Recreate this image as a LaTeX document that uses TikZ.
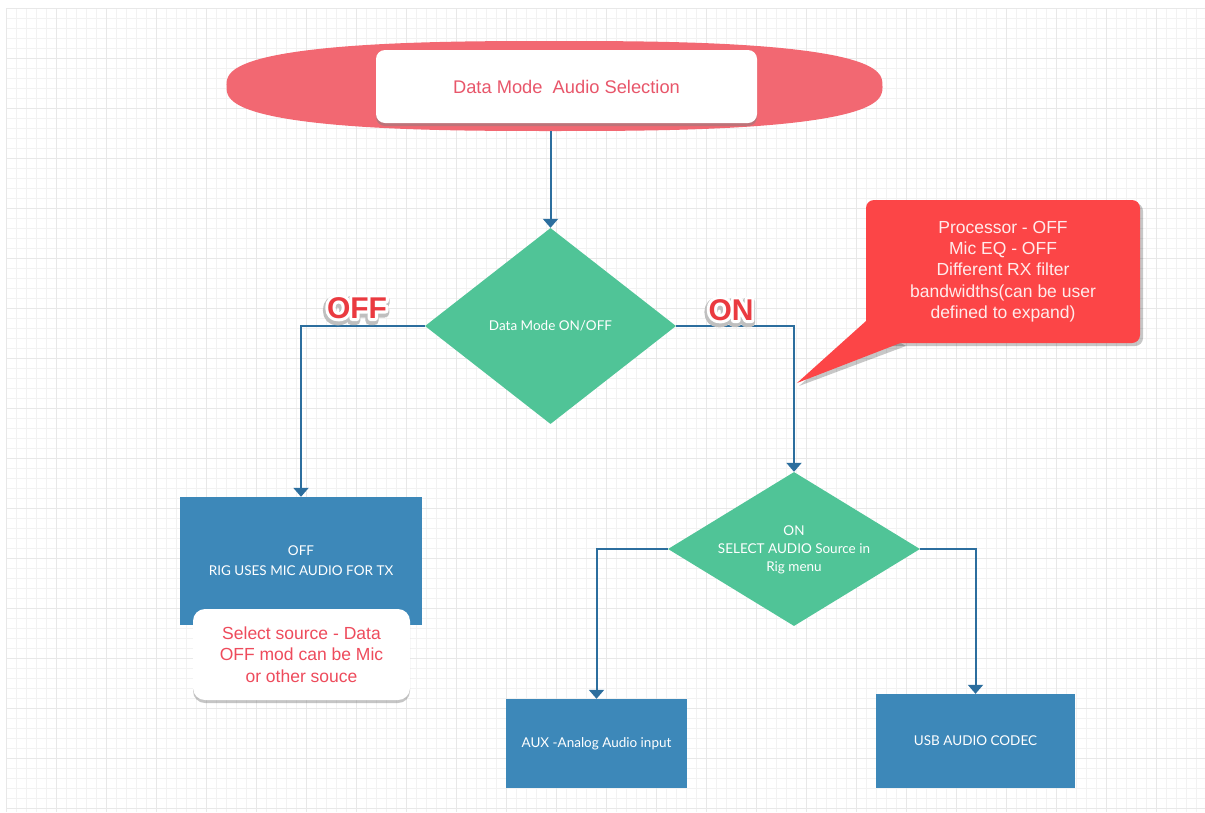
\documentclass[tikz,border=0pt]{standalone}
\usepackage{fontspec}
\setmainfont{Liberation Sans}
\newfontfamily\lato{Lato}
\usetikzlibrary{shapes.geometric,arrows.meta,shadows,calc}
\definecolor{ellred}{HTML}{F26872}
\definecolor{calred}{HTML}{FC4547}
\definecolor{dgreen}{HTML}{50C497}
\definecolor{bbox}{HTML}{3D88B9}
\definecolor{lnblue}{HTML}{2C6E9E}
\definecolor{pinktxt}{HTML}{E8566A}
\definecolor{notetxt}{HTML}{EE4B5C}
\definecolor{lblred}{HTML}{EA3A40}
\newcommand\strk[3]{{\color{#1}\special{pdf:literal direct 1 Tr #2 w 1 j 1 J}#3\special{pdf:literal direct 0 Tr 0.4 w 0 j 0 J}}}
\newcommand\outlined[1]{\rlap{\raisebox{-2.5pt}{\hspace*{-0.8pt}\strk{black!25}{9}{#1}}}\rlap{\strk{white}{6}{#1}}{\color{lblred}#1}}
\begin{document}
\begin{tikzpicture}[x=1pt,y=-1pt,
  conn/.style={draw=lnblue,line width=2pt,-{Triangle[width=15pt,length=9pt]}},
  bluebox/.style={rectangle,fill=bbox,inner sep=0pt,text=white,align=center,font=\lato\fontsize{13.5}{19}\selectfont},
  dia/.style={diamond,fill=dgreen,inner sep=0pt,text=white,align=center,font=\lato\fontsize{13.5}{18}\selectfont},
  whitebox/.style={rectangle,rounded corners=12pt,fill=white,inner sep=0pt,align=center,
    drop shadow={opacity=0.45,shadow xshift=0pt,shadow yshift=-3pt}},
  lbl/.style={inner sep=0pt,font=\bfseries\fontsize{30}{30}\selectfont}]
\useasboundingbox (0,0) rectangle (1205,812);
\fill[white] (0,0) rectangle (1205,812);
% grid
\foreach \i in {0,...,120}{\draw[black!5,line width=0.6pt] (6+\i*10,8) -- (6+\i*10,812);}
\foreach \j in {0,...,80}{\draw[black!5,line width=0.6pt] (6,8+\j*10) -- (1205,8+\j*10);}
\foreach \i in {0,...,24}{\draw[black!9,line width=0.8pt] (6+\i*50,8) -- (6+\i*50,812);}
\foreach \j in {0,...,16}{\draw[black!9,line width=0.8pt] (6,8+\j*50) -- (1205,8+\j*50);}

% title (rounded ellipse)
\fill[ellred] plot[domain=0.5:360.5,samples=181]
  ({554.5+328*sign(cos(\x))*pow(abs(cos(\x)),0.74)},{86+45*sign(sin(\x))*pow(abs(sin(\x)),0.74)}) -- cycle;
\coordinate (ellb) at (554.5,131);
\node[whitebox,rounded corners=9pt,minimum width=381pt,minimum height=73pt,text=pinktxt,font=\fontsize{18.3}{20}\selectfont] (title) at (566.5,86.5) {Data Mode\ \ Audio Selection};

% decisions
\node[dia,minimum width=251pt,minimum height=196pt,aspect=1.28] (d1) at (550.5,326) {Data Mode ON/OFF};
\node[dia,minimum width=252pt,minimum height=154pt,aspect=1.64,text depth=-4pt] (d2) at (794,549) {ON\\SELECT AUDIO Source in\\Rig menu};

% boxes
\node[bluebox,minimum width=242pt,minimum height=128pt,font=\lato\fontsize{13.5}{20}\selectfont,text depth=-2pt] (offbox) at (301,561) {OFF\\RIG USES MIC AUDIO FOR TX};
\node[whitebox,minimum width=217pt,minimum height=91pt,text=notetxt,font=\fontsize{17.5}{21.5}\selectfont] (note) at (301.5,654.5) {Select source - Data\\OFF mod can be Mic\\or other souce};
\node[bluebox,minimum width=181pt,minimum height=89pt] (aux) at (596.5,743.5) {AUX -Analog Audio input};
\node[bluebox,minimum width=199pt,minimum height=94pt] (usb) at (975.5,741) {USB AUDIO CODEC};

% callout
\fill[black,opacity=0.22,rounded corners=8pt] (869,203) rectangle (1143,346);
\fill[black,opacity=0.22] (869,325) -- (799,386) -- (906,346) -- cycle;
\node[rectangle,rounded corners=8pt,fill=calred,minimum width=274pt,minimum height=143pt,inner sep=0pt,
  text=white!92!red,align=center,font=\fontsize{17.5}{21.2}\selectfont] (call) at (1003,271.5)
  {Processor - OFF\\Mic EQ - OFF\\Different RX filter\\bandwidths(can be user\\defined to expand)};
\coordinate (tip) at (797,383);
\fill[calred] ($(call.south west)+(0,-22)$) -- (tip) -- ($(call.south west)+(34,0)$) -- ($(call.south west)+(8,0)$) -- cycle;

% connectors
\draw[conn] (d1.north |- ellb) -- (d1.north);
\draw[conn] (d1.west) -| (offbox.north);
\draw[conn] (d1.east) -| (d2.north);
\draw[conn] (d2.west) -| (aux.north);
\draw[conn] (d2.east) -| (usb.north);

% labels
\node[lbl] (offl) at (357,309) {\outlined{OFF}};
\node[lbl] (onl) at (731,311) {\outlined{ON}};
\end{tikzpicture}
\end{document}
